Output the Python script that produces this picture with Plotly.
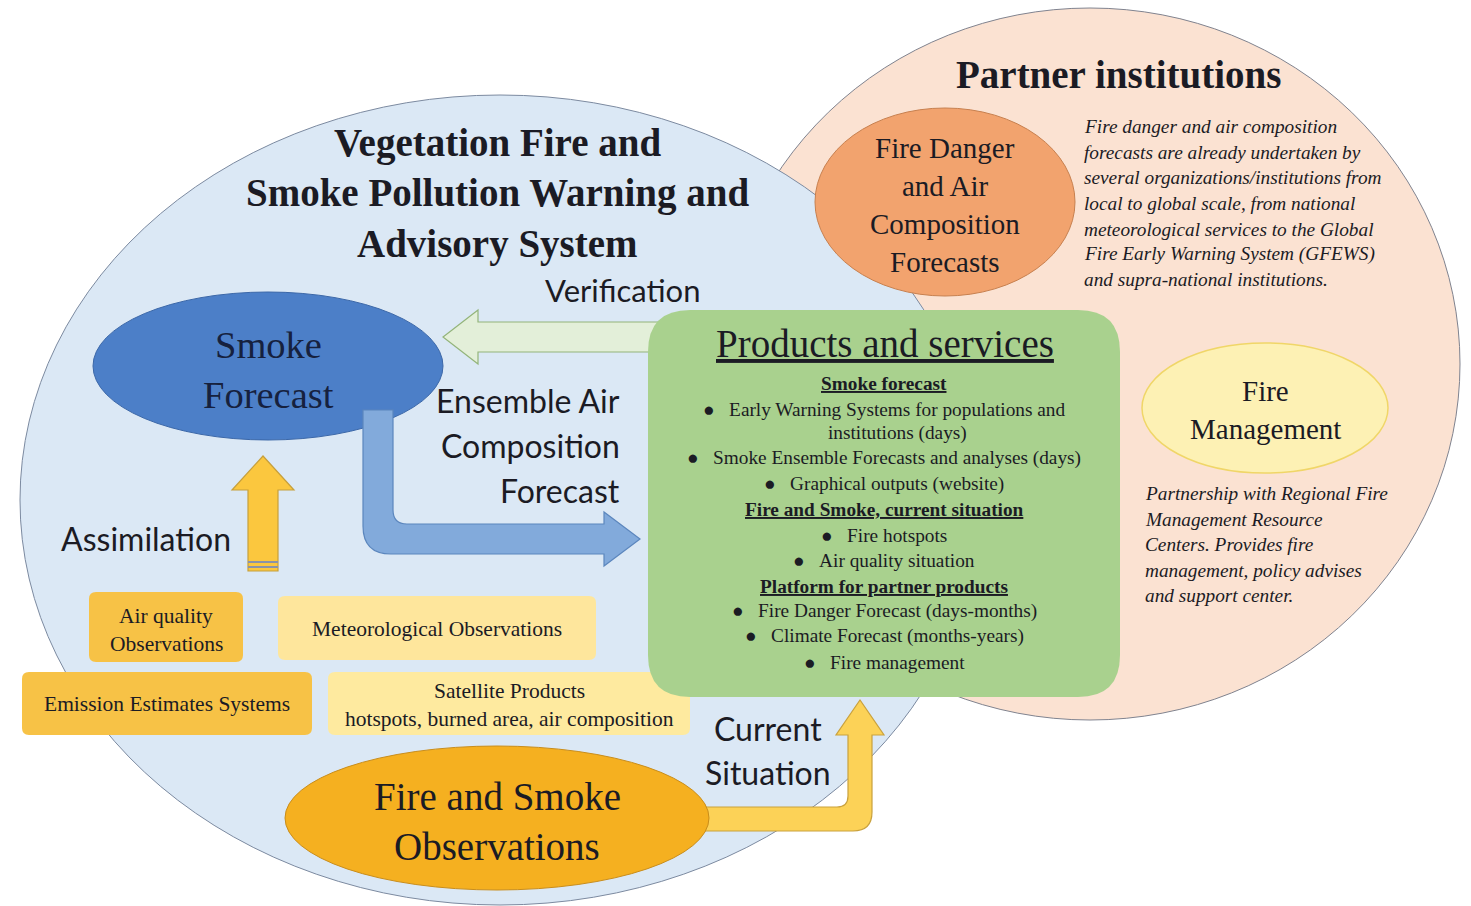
import plotly.graph_objects as go

W, H = 1471, 906
SERIF = "Liberation Serif"
SANS = "Lato"
INK = "#1b1b24"

# ---------------- text content ----------------
title_lines = ["Vegetation Fire and", "Smoke Pollution Warning and", "Advisory System"]
partner_title = "Partner institutions"
partner_note = [
    "Fire danger and air composition",
    "forecasts are already undertaken by",
    "several organizations/institutions from",
    "local to global scale, from national",
    "meteorological services to the Global",
    "Fire Early Warning System (GFEWS)",
    "and supra-national institutions.",
]
fire_danger_label = ["Fire Danger", "and Air", "Composition", "Forecasts"]
fire_mgmt_label = ["Fire", "Management"]
fire_mgmt_note = [
    "Partnership with Regional Fire",
    "Management Resource",
    "Centers. Provides fire",
    "management, policy advises",
    "and support center.",
]
products_title = "Products and services"
products_kinds = ["h", "b", "c", "b", "b", "h", "b", "b", "h", "b", "b", "b"]
products_lines = [
    "Smoke forecast",
    "Early Warning Systems for populations and",
    "institutions (days)",
    "Smoke Ensemble Forecasts and analyses (days)",
    "Graphical outputs (website)",
    "Fire and Smoke, current situation",
    "Fire hotspots",
    "Air quality situation",
    "Platform for partner products",
    "Fire Danger Forecast (days-months)",
    "Climate Forecast (months-years)",
    "Fire management",
]
smoke_label = ["Smoke", "Forecast"]
obs_label = ["Fire and Smoke", "Observations"]
ensemble_label = ["Ensemble Air", "Composition", "Forecast"]
current_label = ["Current", "Situation"]
verification_label = "Verification"
assimilation_label = "Assimilation"
box_labels = [
    ["Air quality", "Observations"],
    ["Meteorological Observations"],
    ["Emission Estimates Systems"],
    ["Satellite Products", "hotspots, burned area, air composition"],
]

# ---------------- geometry & style (layout only) ----------------
shapes = []
annotations = []


def ellipse(cx, cy, rx, ry, fill, line="rgba(0,0,0,0)", lw=1):
    shapes.append(dict(type="circle", xref="x", yref="y",
                       x0=cx - rx, x1=cx + rx, y0=cy - ry, y1=cy + ry,
                       fillcolor=fill, line=dict(color=line, width=lw), layer="above"))


def rrect(x0, y0, x1, y1, r, fill, line="rgba(0,0,0,0)", lw=1):
    p = (f"M{x0+r},{y0} L{x1-r},{y0} Q{x1},{y0} {x1},{y0+r} "
         f"L{x1},{y1-r} Q{x1},{y1} {x1-r},{y1} L{x0+r},{y1} "
         f"Q{x0},{y1} {x0},{y1-r} L{x0},{y0+r} Q{x0},{y0} {x0+r},{y0} Z")
    shapes.append(dict(type="path", xref="x", yref="y", path=p, fillcolor=fill,
                       line=dict(color=line, width=lw), layer="above"))


def poly(path, fill, line, lw=1.2):
    shapes.append(dict(type="path", xref="x", yref="y", path=path, fillcolor=fill,
                       line=dict(color=line, width=lw), layer="above"))


def txt(x, y, s, size, family=SERIF, color=INK, xanchor="center"):
    annotations.append(dict(x=x, y=y, xref="x", yref="y", text=s, showarrow=False,
                            font=dict(family=family, size=size, color=color),
                            xanchor=xanchor, yanchor="middle", align=xanchor))


# big circles
ellipse(1090, 364, 370, 356, "#fbe2d2", "#80838f", 1)          # partner
ellipse(500, 500, 480, 405, "#dbe8f5", "#7c8aa0", 1)           # warning system

# Fire Danger circle
ellipse(945, 202, 130, 94, "#f2a36e", "#c7804f", 1)
# Fire Management ellipse
ellipse(1265, 408, 123, 65, "#fdf1b4", "#f0d668", 1.5)

# Verification arrow (left)
poly("M662,322 L478,322 L478,310 L443,337 L478,364 L478,352 L662,352 Z",
     "#e3efd9", "#93b47a", 1.2)

# Smoke forecast ellipse
ellipse(268, 366, 175, 74, "#4c7fc8", "#3b67a8", 1)

# Blue bent arrow
poly("M363,410 L363,526 Q363,554 391,554 L604,554 L604,566 L640,539 L604,512 "
     "L604,524 L407,524 Q393,524 393,510 L393,410 Z",
     "#82aadb", "#5b86bd", 1.2)

# Assimilation arrow (up)
poly("M248,571 L248,490 L232,490 L263,456 L294,490 L278,490 L278,571 Z",
     "#fbc73e", "#c69f3c", 1.2)
shapes.append(dict(type="line", xref="x", yref="y", x0=248, x1=278, y0=562, y1=562,
                   line=dict(color="#8a93a8", width=2), layer="above"))
shapes.append(dict(type="line", xref="x", yref="y", x0=248, x1=278, y0=567, y1=567,
                   line=dict(color="#8a93a8", width=2), layer="above"))

# Observation boxes
rrect(89, 592, 243, 662, 7, "#f7c246")
rrect(278, 596, 596, 660, 7, "#fee69c")
rrect(22, 672, 312, 735, 7, "#f7c246")
rrect(328, 672, 690, 735, 7, "#feea9f")

# Products and services box
rrect(648, 310, 1120, 697, 42, "#a9d18e")

# Current situation arrow
poly("M690,807 L837,807 Q848,807 848,796 L848,735 L836,735 L860,700 L884,735 "
     "L872,735 L872,812 Q872,831 853,831 L690,831 Z",
     "#fcd257", "#c9a13d", 1.2)

# Fire and smoke observations ellipse
ellipse(497, 818, 212, 72, "#f5b020", "#c98d1b", 1)

# ---------------- texts ----------------
for s, y in zip(title_lines, [143, 193, 244]):
    txt(497, y, f"<b>{s}</b>", 39)

txt(1118, 74, f"<b>{partner_title}</b>", 39)
for s, y in zip(partner_note, [126, 152, 177, 203, 229, 254, 279]):
    txt(1082, y, f"<i>{s}</i>", 19.3, xanchor="left")

for s, y in zip(fire_danger_label, [148, 186, 224, 262]):
    txt(945, y, s, 29)

for s, y in zip(fire_mgmt_label, [391, 429]):
    txt(1265, y, s, 29)
for s, y in zip(fire_mgmt_note, [493, 519, 544, 570, 595]):
    txt(1143, y, f"<i>{s}</i>", 19.3, xanchor="left")

txt(885, 343, f"<u>{products_title}</u>", 39)
NB = "\u00a0"
prod_y = [383, 409, 433, 458, 484, 509, 535, 560, 586, 611, 636, 662]
for kind, s, y in zip(products_kinds, products_lines, prod_y):
    if kind == "h":
        txt(884, y, f"<b><u>{s}</u></b>", 19.3)
    elif kind == "b":
        txt(884, y, f"<b>●</b>{NB*3}{s}", 19.3)
    else:
        txt(897, y, s, 19.3)

for s, y in zip(smoke_label, [345, 395]):
    txt(268, y, s, 38.5, color="#16213e")

for s, y in zip(obs_label, [796, 846]):
    txt(497, y, s, 39)

txt(622, 290, verification_label, 31, family=SANS)
for s, y in zip(ensemble_label, [400, 445, 490]):
    txt(622, y, s, 32, family=SANS, xanchor="right")
txt(146, 538, assimilation_label, 32, family=SANS)
for s, y in zip(current_label, [728, 772]):
    txt(768, y, s, 32, family=SANS)

for lab, (cx, y0) in zip(box_labels, [(166, 616), (437, 629), (167, 704), (509, 691)]):
    for i, s in enumerate(lab):
        txt(cx, y0 + i * 28, s, 21.5)

fig = go.Figure()
fig.add_trace(go.Scatter(x=[0, W], y=[0, H], mode="markers",
                         marker=dict(opacity=0), hoverinfo="skip", showlegend=False))
fig.update_layout(
    width=W, height=H, margin=dict(l=0, r=0, t=0, b=0),
    paper_bgcolor="white", plot_bgcolor="white",
    xaxis=dict(range=[0, W], visible=False, fixedrange=True),
    yaxis=dict(range=[H, 0], visible=False, fixedrange=True),
    shapes=shapes, annotations=annotations, showlegend=False,
)
fig.write_html("out.html", config={"displayModeBar": False},
               post_script="document.body.style.margin='0';")
